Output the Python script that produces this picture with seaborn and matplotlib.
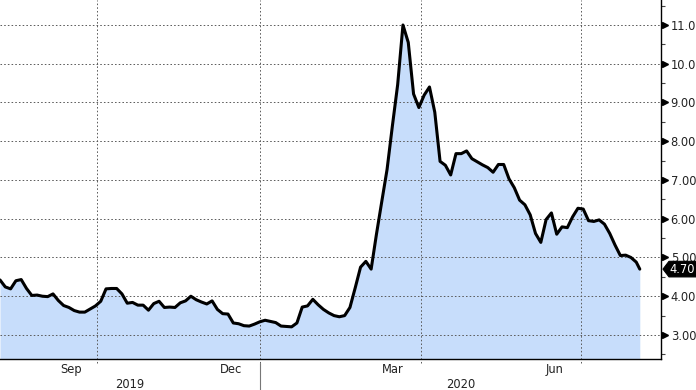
import numpy as np
import pandas as pd
import matplotlib
matplotlib.use("Agg")
import matplotlib.pyplot as plt
import matplotlib.dates as mdates
import matplotlib.transforms as mtransforms
from matplotlib.patches import Polygon
import seaborn as sns

# ---- data ----
start_date = "2019-08-07"
step_days = 3
values = [
    4.42, 4.24, 4.19, 4.40, 4.43, 4.20, 4.02, 4.03, 4.00, 3.99,
    4.06, 3.89, 3.76, 3.71, 3.63, 3.59, 3.59, 3.67, 3.75, 3.87,
    4.19, 4.20, 4.20, 4.06, 3.82, 3.84, 3.77, 3.77, 3.64, 3.81,
    3.87, 3.71, 3.72, 3.71, 3.83, 3.88, 4.00, 3.91, 3.85, 3.80,
    3.88, 3.66, 3.55, 3.54, 3.31, 3.29, 3.24, 3.23, 3.28, 3.34,
    3.38, 3.35, 3.32, 3.23, 3.22, 3.21, 3.31, 3.72, 3.75, 3.92,
    3.78, 3.66, 3.57, 3.50, 3.47, 3.50, 3.71, 4.22, 4.75, 4.90,
    4.70, 5.60, 6.44, 7.27, 8.39, 9.46, 11.00, 10.55, 9.22, 8.87,
    9.19, 9.40, 8.75, 7.48, 7.38, 7.13, 7.68, 7.68, 7.75, 7.55,
    7.47, 7.39, 7.32, 7.20, 7.40, 7.40, 7.03, 6.80, 6.48, 6.36,
    6.10, 5.62, 5.39, 5.98, 6.15, 5.60, 5.79, 5.77, 6.05, 6.27,
    6.25, 5.95, 5.93, 5.97, 5.86, 5.62, 5.32, 5.05, 5.06, 5.00,
    4.88,
]
last_date = "2020-08-03"
last_value = 4.70

y_ticks = [3, 4, 5, 6, 7, 8, 9, 10, 11]
y_tick_labels = ["3.00", "4.00", "5.00", "6.00", "7.00", "8.00", "9.00", "10.0", "11.0"]
x_range = ("2019-08-07", "2020-08-15")
y_range = (2.38, 11.645)

dates = list(pd.date_range(start_date, periods=len(values), freq=f"{step_days}D"))
dates.append(pd.Timestamp(last_date))
vals = values + [last_value]
df = pd.DataFrame({"date": dates, "value": vals})

# ---- style ----
sns.set_style("white")
plt.rcParams["font.family"] = ["DejaVu Sans"]

W, H = 696, 390
fig = plt.figure(figsize=(W / 100, H / 100), dpi=100)
ax = fig.add_axes([0, 31 / H, 661 / W, 359 / H])

fill_color = "#c7ddfb"
ax.fill_between(df["date"], df["value"], y_range[0] - 1, color=fill_color, lw=0, zorder=1)
sns.lineplot(data=df, x="date", y="value", ax=ax, color="black", lw=2.2, zorder=4)

ax.set_xlim(pd.Timestamp(x_range[0]), pd.Timestamp(x_range[1]))
ax.set_ylim(*y_range)
ax.set_xlabel("")
ax.set_ylabel("")

grid_kw = dict(color="#5a5a5a", lw=0.7, linestyle=(0, (1.6, 2.2)), zorder=2)
for v in y_ticks:
    ax.axhline(v, **grid_kw)
xt = mtransforms.blended_transform_factory(ax.transData, ax.transAxes)
for q in pd.date_range("2019-07-01", "2020-10-01", freq="QS"):
    if pd.Timestamp(x_range[0]) < q < pd.Timestamp(x_range[1]):
        qn = mdates.date2num(q)
        ax.plot([qn, qn], [-0.012, 1.0], transform=xt, clip_on=False, **grid_kw)

# spines
for s in ["top", "left"]:
    ax.spines[s].set_visible(False)
for s in ["right", "bottom"]:
    ax.spines[s].set_color("black")
    ax.spines[s].set_linewidth(1.0)

# y axis on the right
ax.yaxis.tick_right()
ax.set_yticks(y_ticks)
ax.set_yticklabels(y_tick_labels)
ax.set_yticks(np.arange(2.5, 12.0, 1.0), minor=True)
ax.tick_params(axis="y", which="major", length=0, pad=7, labelsize=8.3, labelcolor="#222222")
ax.tick_params(axis="y", which="minor", length=3, width=0.8, color="#444444", direction="out")

# triangular tick markers
off = mtransforms.ScaledTranslation(3.5 / 100, 0, fig.dpi_scale_trans)
btrans = mtransforms.blended_transform_factory(ax.transAxes, ax.transData)
ax.plot([1.0] * len(y_ticks), y_ticks, ls="none", marker=">", ms=4.5, color="black",
        transform=btrans + off, clip_on=False, zorder=5)

# x axis
ax.xaxis.set_major_locator(mdates.MonthLocator())
ax.xaxis.set_major_formatter(plt.NullFormatter())
ax.xaxis.set_minor_locator(mdates.MonthLocator(bymonth=[3, 6, 9, 12], bymonthday=16))
ax.xaxis.set_minor_formatter(mdates.DateFormatter("%b"))
ax.tick_params(axis="x", which="major", length=3, width=0.8, color="#444444", direction="out")
ax.tick_params(axis="x", which="minor", length=0, pad=3, labelsize=8.3, labelcolor="#222222")

# year labels and separator
x0n, x1n = ax.get_xlim()
jan1 = mdates.date2num(pd.Timestamp("2020-01-01"))
ax.plot([jan1, jan1], [-0.012, -0.09], color="#777777", lw=0.8, transform=xt, clip_on=False)
ax.text((x0n + jan1) / 2, -0.07, "2019", transform=xt, ha="center", va="center",
        fontsize=8.3, color="#222222")
ax.text((jan1 + x1n) / 2, -0.07, "2020", transform=xt, ha="center", va="center",
        fontsize=8.3, color="#222222")

# last value tag (pointed black label on the right axis)
fig.canvas.draw()
px, py = btrans.transform((1.0, last_value))
tag = np.array([[2, 0], [8, 7.8], [40, 7.8], [40, -7.8], [8, -7.8]]) + [px, py]
fig.patches.append(Polygon(tag, closed=True, transform=None, facecolor="black",
                           edgecolor="black", lw=0.8, joinstyle="round", zorder=10,
                           figure=fig))
fig.text((px + 8.5) / W, py / H, f"{last_value:.2f}", ha="left", va="center",
         fontsize=8.3, color="white", zorder=11)

fig.savefig("out.png", dpi=100)
